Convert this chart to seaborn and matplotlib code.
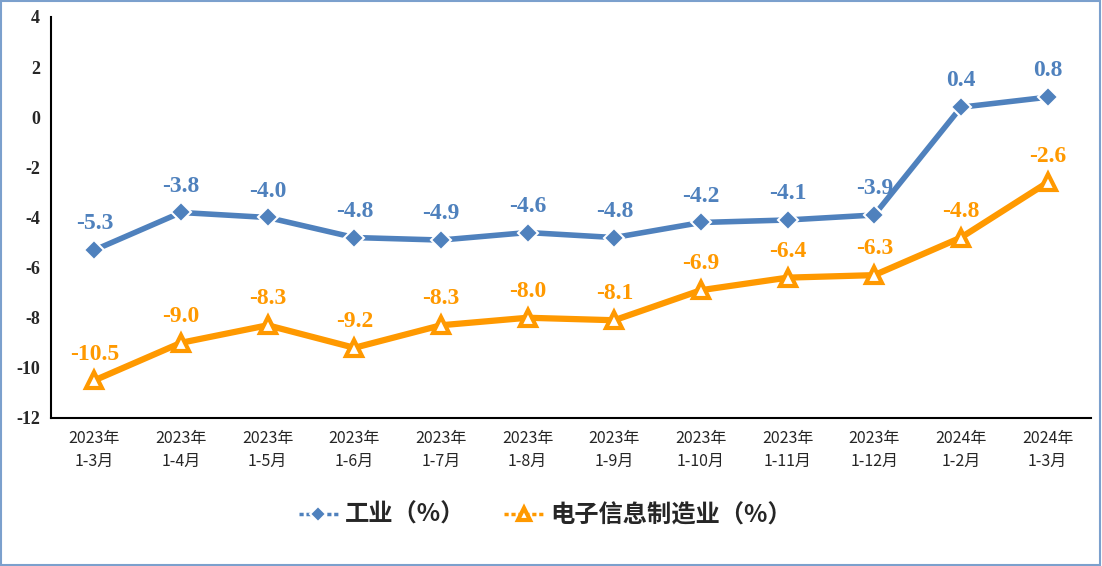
import numpy as np
import pandas as pd
import seaborn as sns
import matplotlib.pyplot as plt
from matplotlib.patches import Rectangle

periods = ['2023年\n1-3月', '2023年\n1-4月', '2023年\n1-5月', '2023年\n1-6月',
           '2023年\n1-7月', '2023年\n1-8月', '2023年\n1-9月', '2023年\n1-10月',
           '2023年\n1-11月', '2023年\n1-12月', '2024年\n1-2月', '2024年\n1-3月']
industry = [-5.3, -3.8, -4.0, -4.8, -4.9, -4.6, -4.8, -4.2, -4.1, -3.9, 0.4, 0.8]
electronics = [-10.5, -9.0, -8.3, -9.2, -8.3, -8.0, -8.1, -6.9, -6.4, -6.3, -4.8, -2.6]
series_names = ['工业（%）', '电子信息制造业（%）']

BLUE = '#4F81BD'
ORANGE = '#FF9900'

sns.set_theme(style='white')
plt.rcParams['font.family'] = ['Noto Sans CJK SC', 'DejaVu Sans']

fig = plt.figure(figsize=(11.02, 5.66), dpi=100)
ax = fig.add_axes([0.0463, 0.2615, 0.9437, 0.7085])

x = np.arange(len(periods))
df = pd.DataFrame({'x': np.tile(x, 2),
                   'value': industry + electronics,
                   'series': [series_names[0]] * len(x) + [series_names[1]] * len(x)})

sns.lineplot(data=df[df['series'] == series_names[0]], x='x', y='value', ax=ax,
             color=BLUE, lw=4, marker='D', markersize=10, markerfacecolor=BLUE,
             markeredgecolor='white', markeredgewidth=1.5, label=series_names[0])
sns.lineplot(data=df[df['series'] == series_names[1]], x='x', y='value', ax=ax,
             color=ORANGE, lw=4.5, marker='^', markersize=12, markerfacecolor='white',
             markeredgecolor=ORANGE, markeredgewidth=3, label=series_names[1])

serif = ['Liberation Serif', 'DejaVu Serif']
for xi, v in zip(x, industry):
    ax.annotate(f'{v:.1f}', (xi, v), xytext=(0, 19), textcoords='offset points',
                ha='center', va='center', color=BLUE, fontsize=17, fontweight='bold', family=serif)
for xi, v in zip(x, electronics):
    ax.annotate(f'{v:.1f}', (xi, v), xytext=(0, 19), textcoords='offset points',
                ha='center', va='center', color=ORANGE, fontsize=17, fontweight='bold', family=serif)

ax.set_xlim(-0.5, len(x) - 0.5)
ax.set_ylim(-12, 4)
ax.set_yticks(range(-12, 5, 2))
ax.set_yticklabels([str(t) for t in range(-12, 5, 2)], family=serif, fontweight='bold', fontsize=13)
ax.set_xticks(x)
ax.set_xticklabels(periods, fontsize=11.5, linespacing=1.45)
ax.tick_params(axis='x', length=0, pad=9)
ax.tick_params(axis='y', length=0, pad=8)
ax.set_xlabel('')
ax.set_ylabel('')

for side in ['top', 'right']:
    ax.spines[side].set_visible(False)
for side in ['left', 'bottom']:
    ax.spines[side].set_color('black')
    ax.spines[side].set_linewidth(1.5)

leg = ax.legend(loc='center', ncol=2, frameon=False, handlelength=1.6, columnspacing=1.6,
                handletextpad=0.3,
                prop={'family': ['Noto Sans CJK SC', 'DejaVu Sans'], 'weight': 'bold', 'size': 17.5})
leg.set_bbox_to_anchor((0.495, 0.09), transform=fig.transFigure)
for h in leg.legend_handles:
    h.set_linewidth(2.5)
    h.set_linestyle((0, (1.2, 0.8)))
    h.set_markersize(8)

fig.patches.append(Rectangle((0.001, 0.001), 0.997, 0.997, transform=fig.transFigure,
                             fill=False, edgecolor='#7BA0CD', lw=1.5))

fig.savefig('out.png', dpi=100)
